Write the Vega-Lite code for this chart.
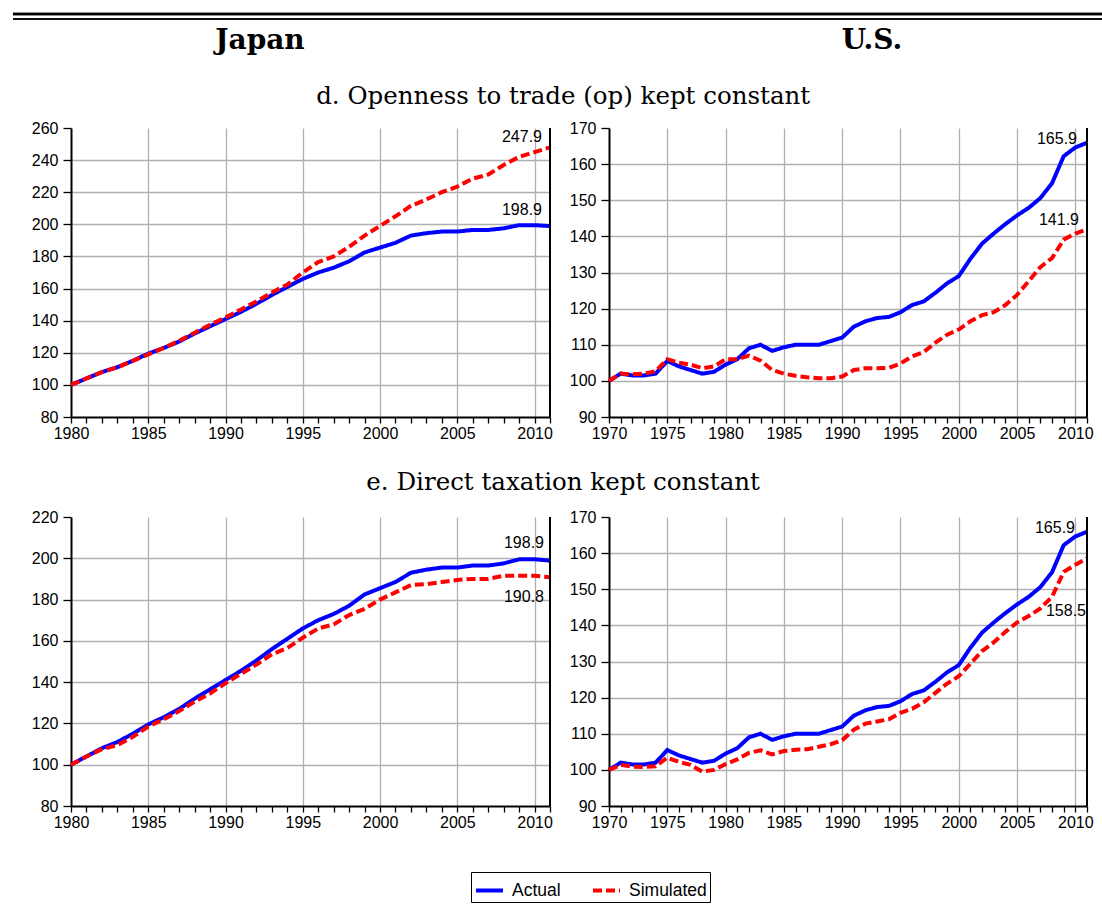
{
  "$schema": "https://vega.github.io/schema/vega-lite/v6.json",
  "background": "white",
  "padding": {"left": 11, "top": 12, "right": 0, "bottom": 0},
  "spacing": 28,
  "datasets": {
    "japan_op": [
      {"year": 1980, "Actual": 100, "Simulated": 100},
      {"year": 1981, "Actual": 104, "Simulated": 104},
      {"year": 1982, "Actual": 108, "Simulated": 108},
      {"year": 1983, "Actual": 111, "Simulated": 111},
      {"year": 1984, "Actual": 115, "Simulated": 115},
      {"year": 1985, "Actual": 119.5, "Simulated": 119},
      {"year": 1986, "Actual": 123, "Simulated": 123},
      {"year": 1987, "Actual": 127, "Simulated": 127.5},
      {"year": 1988, "Actual": 132, "Simulated": 132.5},
      {"year": 1989, "Actual": 136.5, "Simulated": 137.5},
      {"year": 1990, "Actual": 141, "Simulated": 142},
      {"year": 1991, "Actual": 145.5, "Simulated": 147},
      {"year": 1992, "Actual": 150.5, "Simulated": 152},
      {"year": 1993, "Actual": 156, "Simulated": 157.5},
      {"year": 1994, "Actual": 161, "Simulated": 162.5},
      {"year": 1995, "Actual": 166, "Simulated": 170},
      {"year": 1996, "Actual": 170, "Simulated": 176.5},
      {"year": 1997, "Actual": 173, "Simulated": 180},
      {"year": 1998, "Actual": 177, "Simulated": 186},
      {"year": 1999, "Actual": 182.5, "Simulated": 193},
      {"year": 2000, "Actual": 185.5, "Simulated": 199},
      {"year": 2001, "Actual": 188.5, "Simulated": 205},
      {"year": 2002, "Actual": 193, "Simulated": 211.5},
      {"year": 2003, "Actual": 194.5, "Simulated": 215.5},
      {"year": 2004, "Actual": 195.5, "Simulated": 220},
      {"year": 2005, "Actual": 195.5, "Simulated": 223.5},
      {"year": 2006, "Actual": 196.5, "Simulated": 228.5},
      {"year": 2007, "Actual": 196.5, "Simulated": 231},
      {"year": 2008, "Actual": 197.5, "Simulated": 237},
      {"year": 2009, "Actual": 199.5, "Simulated": 242},
      {"year": 2010, "Actual": 199.5, "Simulated": 245},
      {"year": 2011, "Actual": 198.9, "Simulated": 247.9}
    ],
    "japan_tax": [
      {"year": 1980, "Actual": 100, "Simulated": 100},
      {"year": 1981, "Actual": 104, "Simulated": 104},
      {"year": 1982, "Actual": 108, "Simulated": 107.5},
      {"year": 1983, "Actual": 111, "Simulated": 109.5},
      {"year": 1984, "Actual": 115, "Simulated": 113.5},
      {"year": 1985, "Actual": 119.5, "Simulated": 118.5},
      {"year": 1986, "Actual": 123, "Simulated": 122},
      {"year": 1987, "Actual": 127, "Simulated": 126},
      {"year": 1988, "Actual": 132, "Simulated": 130.5},
      {"year": 1989, "Actual": 136.5, "Simulated": 134.5},
      {"year": 1990, "Actual": 141, "Simulated": 139.5},
      {"year": 1991, "Actual": 145.5, "Simulated": 144},
      {"year": 1992, "Actual": 150.5, "Simulated": 148.5},
      {"year": 1993, "Actual": 156, "Simulated": 153.5},
      {"year": 1994, "Actual": 161, "Simulated": 156.5},
      {"year": 1995, "Actual": 166, "Simulated": 161.5},
      {"year": 1996, "Actual": 170, "Simulated": 166},
      {"year": 1997, "Actual": 173, "Simulated": 168},
      {"year": 1998, "Actual": 177, "Simulated": 172.5},
      {"year": 1999, "Actual": 182.5, "Simulated": 175.5},
      {"year": 2000, "Actual": 185.5, "Simulated": 180},
      {"year": 2001, "Actual": 188.5, "Simulated": 183.5},
      {"year": 2002, "Actual": 193, "Simulated": 187},
      {"year": 2003, "Actual": 194.5, "Simulated": 187.5},
      {"year": 2004, "Actual": 195.5, "Simulated": 188.5},
      {"year": 2005, "Actual": 195.5, "Simulated": 189.5},
      {"year": 2006, "Actual": 196.5, "Simulated": 190},
      {"year": 2007, "Actual": 196.5, "Simulated": 190},
      {"year": 2008, "Actual": 197.5, "Simulated": 191.5},
      {"year": 2009, "Actual": 199.5, "Simulated": 191.5},
      {"year": 2010, "Actual": 199.5, "Simulated": 191.5},
      {"year": 2011, "Actual": 198.9, "Simulated": 190.8}
    ],
    "us_op": [
      {"year": 1970, "Actual": 100, "Simulated": 100},
      {"year": 1971, "Actual": 102, "Simulated": 102},
      {"year": 1972, "Actual": 101.5, "Simulated": 101.8},
      {"year": 1973, "Actual": 101.5, "Simulated": 102},
      {"year": 1974, "Actual": 102, "Simulated": 102.7},
      {"year": 1975, "Actual": 105.5, "Simulated": 106},
      {"year": 1976, "Actual": 104, "Simulated": 105},
      {"year": 1977, "Actual": 103, "Simulated": 104.5},
      {"year": 1978, "Actual": 102, "Simulated": 103.5},
      {"year": 1979, "Actual": 102.5, "Simulated": 104},
      {"year": 1980, "Actual": 104.5, "Simulated": 106},
      {"year": 1981, "Actual": 106, "Simulated": 106},
      {"year": 1982, "Actual": 109, "Simulated": 107},
      {"year": 1983, "Actual": 110, "Simulated": 105.6},
      {"year": 1984, "Actual": 108.3, "Simulated": 103},
      {"year": 1985, "Actual": 109.3, "Simulated": 102},
      {"year": 1986, "Actual": 110, "Simulated": 101.4},
      {"year": 1987, "Actual": 110, "Simulated": 101},
      {"year": 1988, "Actual": 110, "Simulated": 100.7},
      {"year": 1989, "Actual": 111, "Simulated": 100.7},
      {"year": 1990, "Actual": 112, "Simulated": 101.2},
      {"year": 1991, "Actual": 115, "Simulated": 103},
      {"year": 1992, "Actual": 116.5, "Simulated": 103.5},
      {"year": 1993, "Actual": 117.4, "Simulated": 103.5},
      {"year": 1994, "Actual": 117.7, "Simulated": 103.6},
      {"year": 1995, "Actual": 119, "Simulated": 104.8},
      {"year": 1996, "Actual": 121, "Simulated": 106.8},
      {"year": 1997, "Actual": 122, "Simulated": 108},
      {"year": 1998, "Actual": 124.4, "Simulated": 110.6},
      {"year": 1999, "Actual": 127, "Simulated": 112.8},
      {"year": 2000, "Actual": 129, "Simulated": 114.2},
      {"year": 2001, "Actual": 133.8, "Simulated": 116.5},
      {"year": 2002, "Actual": 138, "Simulated": 118.2},
      {"year": 2003, "Actual": 140.8, "Simulated": 119},
      {"year": 2004, "Actual": 143.4, "Simulated": 121},
      {"year": 2005, "Actual": 145.8, "Simulated": 123.8},
      {"year": 2006, "Actual": 147.9, "Simulated": 127.6},
      {"year": 2007, "Actual": 150.6, "Simulated": 131.5},
      {"year": 2008, "Actual": 154.7, "Simulated": 134},
      {"year": 2009, "Actual": 162.2, "Simulated": 139.1},
      {"year": 2010, "Actual": 164.6, "Simulated": 140.8},
      {"year": 2011, "Actual": 165.9, "Simulated": 141.9}
    ],
    "us_tax": [
      {"year": 1970, "Actual": 100, "Simulated": 100},
      {"year": 1971, "Actual": 102, "Simulated": 101.4},
      {"year": 1972, "Actual": 101.5, "Simulated": 100.9},
      {"year": 1973, "Actual": 101.5, "Simulated": 100.8},
      {"year": 1974, "Actual": 102, "Simulated": 101},
      {"year": 1975, "Actual": 105.5, "Simulated": 103.4},
      {"year": 1976, "Actual": 104, "Simulated": 102.2},
      {"year": 1977, "Actual": 103, "Simulated": 101.4},
      {"year": 1978, "Actual": 102, "Simulated": 99.5},
      {"year": 1979, "Actual": 102.5, "Simulated": 100},
      {"year": 1980, "Actual": 104.5, "Simulated": 101.6},
      {"year": 1981, "Actual": 106, "Simulated": 102.9},
      {"year": 1982, "Actual": 109, "Simulated": 104.7},
      {"year": 1983, "Actual": 110, "Simulated": 105.4},
      {"year": 1984, "Actual": 108.3, "Simulated": 104.3},
      {"year": 1985, "Actual": 109.3, "Simulated": 105.2},
      {"year": 1986, "Actual": 110, "Simulated": 105.6},
      {"year": 1987, "Actual": 110, "Simulated": 105.7},
      {"year": 1988, "Actual": 110, "Simulated": 106.4},
      {"year": 1989, "Actual": 111, "Simulated": 107.1},
      {"year": 1990, "Actual": 112, "Simulated": 108.2},
      {"year": 1991, "Actual": 115, "Simulated": 111.1},
      {"year": 1992, "Actual": 116.5, "Simulated": 112.8},
      {"year": 1993, "Actual": 117.4, "Simulated": 113.4},
      {"year": 1994, "Actual": 117.7, "Simulated": 114},
      {"year": 1995, "Actual": 119, "Simulated": 115.8},
      {"year": 1996, "Actual": 121, "Simulated": 116.9},
      {"year": 1997, "Actual": 122, "Simulated": 118.7},
      {"year": 1998, "Actual": 124.4, "Simulated": 121.3},
      {"year": 1999, "Actual": 127, "Simulated": 123.9},
      {"year": 2000, "Actual": 129, "Simulated": 125.9},
      {"year": 2001, "Actual": 133.8, "Simulated": 129.4},
      {"year": 2002, "Actual": 138, "Simulated": 132.9},
      {"year": 2003, "Actual": 140.8, "Simulated": 135.3},
      {"year": 2004, "Actual": 143.4, "Simulated": 138.2},
      {"year": 2005, "Actual": 145.8, "Simulated": 140.8},
      {"year": 2006, "Actual": 147.9, "Simulated": 142.6},
      {"year": 2007, "Actual": 150.6, "Simulated": 144.7},
      {"year": 2008, "Actual": 154.7, "Simulated": 147.9},
      {"year": 2009, "Actual": 162.2, "Simulated": 154.8},
      {"year": 2010, "Actual": 164.6, "Simulated": 156.8},
      {"year": 2011, "Actual": 165.9, "Simulated": 158.5}
    ]
  },
  "vconcat": [
    {
      "width": 990,
      "height": 35,
      "data": {"values": [{"country": "Japan"}, {"country": "U.S."}]},
      "resolve": {"scale": {"x": "independent"}},
      "layer": [
        {
          "mark": {"type": "rule", "color": "black", "strokeWidth": 2.5, "clip": false},
          "encoding": {
            "x": {"datum": -0.0586, "type": "quantitative", "scale": {"domain": [0, 1]}, "axis": null},
            "x2": {"datum": 1.0414},
            "y": {"datum": 1, "type": "quantitative", "scale": {"domain": [0, 1]}, "axis": null}
          }
        },
        {
          "mark": {"type": "rule", "color": "black", "strokeWidth": 1.3, "yOffset": 5, "clip": false},
          "encoding": {
            "x": {"datum": -0.0586, "type": "quantitative", "scale": {"domain": [0, 1]}, "axis": null},
            "x2": {"datum": 1.0414},
            "y": {"datum": 1, "type": "quantitative", "axis": null}
          }
        },
        {
          "mark": {"type": "text", "font": "DejaVu Serif", "fontSize": 28, "fontWeight": "bold", "baseline": "alphabetic", "color": "black"},
          "encoding": {
            "x": {"field": "country", "type": "nominal", "scale": {"type": "point", "padding": 0.3088}, "axis": null},
            "y": {"datum": 0, "type": "quantitative", "axis": null},
            "text": {"field": "country"}
          }
        }
      ]
    },
    {
      "title": {"text": "d. Openness to trade (op) kept constant", "offset": 11},
      "spacing": 11,
      "resolve": {"scale": {"x": "independent", "y": "independent"}},
      "hconcat": [
        {
          "width": 479,
          "height": 289,
          "data": {"name": "japan_op"},
          "transform": [{"fold": ["Actual", "Simulated"], "as": ["series", "value"]}],
          "encoding": {
            "x": {
              "field": "year", "type": "quantitative", "title": null,
              "scale": {"domain": [1980, 2011], "nice": false, "zero": false},
              "axis": {
                "values": [1980, 1981, 1982, 1983, 1984, 1985, 1986, 1987, 1988, 1989, 1990, 1991, 1992, 1993, 1994, 1995, 1996, 1997, 1998, 1999, 2000, 2001, 2002, 2003, 2004, 2005, 2006, 2007, 2008, 2009, 2010, 2011],
                "labelExpr": "datum.value % 5 === 0 ? datum.label : ''",
                "labelOverlap": false,
                "gridOpacity": {"condition": {"test": "datum.value % 5 !== 0 || datum.value === 1980", "value": 0}, "value": 1}
              }
            },
            "y": {
              "field": "value", "type": "quantitative", "title": null,
              "scale": {"domain": [80, 260], "nice": false, "zero": false},
              "axis": {
                "values": [80, 100, 120, 140, 160, 180, 200, 220, 240, 260],
                "labelOverlap": false,
                "gridOpacity": {"condition": {"test": "datum.value === 260 || datum.value === 80", "value": 0}, "value": 1}
              }
            }
          },
          "layer": [
            {
              "mark": {"type": "line", "strokeWidth": 4},
              "encoding": {
                "color": {"field": "series", "type": "nominal", "title": null, "scale": {"domain": ["Actual", "Simulated"], "range": ["#0000ff", "#ff0000"]}, "legend": {"orient": "none", "legendX": 400, "legendY": 858, "direction": "horizontal"}},
                "strokeDash": {"field": "series", "type": "nominal", "title": null, "scale": {"domain": ["Actual", "Simulated"], "range": [[1, 0], [9, 4]]}, "legend": {"orient": "none", "legendX": 400, "legendY": 858, "direction": "horizontal"}}
              }
            },
            {
              "transform": [{"filter": "datum.year === 2011 && datum.series === 'Actual'"}],
              "mark": {"type": "rule", "color": "black", "strokeWidth": 2},
              "encoding": {"y2": {"datum": 260}}
            },
            {
              "transform": [{"filter": "datum.year === 2011 && datum.series === 'Actual'"}],
              "mark": {"type": "rule", "color": "black", "strokeWidth": 2},
              "encoding": {"y2": {"datum": 80}}
            },
            {
              "transform": [{"filter": "datum.year === 2011 && datum.series === 'Simulated'"}],
              "mark": {"type": "text", "align": "right", "baseline": "middle", "dx": -8, "dy": -10, "font": "Liberation Sans", "fontSize": 16, "color": "black"},
              "encoding": {"text": {"field": "value", "type": "quantitative", "format": ".1f"}}
            },
            {
              "transform": [{"filter": "datum.year === 2011 && datum.series === 'Actual'"}],
              "mark": {"type": "text", "align": "right", "baseline": "middle", "dx": -8, "dy": -16, "font": "Liberation Sans", "fontSize": 16, "color": "black"},
              "encoding": {"text": {"field": "value", "type": "quantitative", "format": ".1f"}}
            }
          ]
        },
        {
          "width": 478,
          "height": 289,
          "data": {"name": "us_op"},
          "transform": [{"fold": ["Actual", "Simulated"], "as": ["series", "value"]}],
          "encoding": {
            "x": {
              "field": "year", "type": "quantitative", "title": null,
              "scale": {"domain": [1970, 2011], "nice": false, "zero": false},
              "axis": {
                "values": [1970, 1971, 1972, 1973, 1974, 1975, 1976, 1977, 1978, 1979, 1980, 1981, 1982, 1983, 1984, 1985, 1986, 1987, 1988, 1989, 1990, 1991, 1992, 1993, 1994, 1995, 1996, 1997, 1998, 1999, 2000, 2001, 2002, 2003, 2004, 2005, 2006, 2007, 2008, 2009, 2010, 2011],
                "labelExpr": "datum.value % 5 === 0 ? datum.label : ''",
                "labelOverlap": false,
                "gridOpacity": {"condition": {"test": "datum.value % 5 !== 0 || datum.value === 1970", "value": 0}, "value": 1}
              }
            },
            "y": {
              "field": "value", "type": "quantitative", "title": null,
              "scale": {"domain": [90, 170], "nice": false, "zero": false},
              "axis": {
                "values": [90, 100, 110, 120, 130, 140, 150, 160, 170],
                "labelOverlap": false,
                "gridOpacity": {"condition": {"test": "datum.value === 170 || datum.value === 90", "value": 0}, "value": 1}
              }
            }
          },
          "layer": [
            {
              "mark": {"type": "line", "strokeWidth": 4},
              "encoding": {
                "color": {"field": "series", "type": "nominal", "title": null, "scale": {"domain": ["Actual", "Simulated"], "range": ["#0000ff", "#ff0000"]}, "legend": {"orient": "none", "legendX": 400, "legendY": 858, "direction": "horizontal"}},
                "strokeDash": {"field": "series", "type": "nominal", "title": null, "scale": {"domain": ["Actual", "Simulated"], "range": [[1, 0], [9, 4]]}, "legend": {"orient": "none", "legendX": 400, "legendY": 858, "direction": "horizontal"}}
              }
            },
            {
              "transform": [{"filter": "datum.year === 2011 && datum.series === 'Actual'"}],
              "mark": {"type": "rule", "color": "black", "strokeWidth": 2},
              "encoding": {"y2": {"datum": 170}}
            },
            {
              "transform": [{"filter": "datum.year === 2011 && datum.series === 'Actual'"}],
              "mark": {"type": "rule", "color": "black", "strokeWidth": 2},
              "encoding": {"y2": {"datum": 90}}
            },
            {
              "transform": [{"filter": "datum.year === 2011 && datum.series === 'Simulated'"}],
              "mark": {"type": "text", "align": "right", "baseline": "middle", "dx": -8, "dy": -10, "font": "Liberation Sans", "fontSize": 16, "color": "black"},
              "encoding": {"text": {"field": "value", "type": "quantitative", "format": ".1f"}}
            },
            {
              "transform": [{"filter": "datum.year === 2011 && datum.series === 'Actual'"}],
              "mark": {"type": "text", "align": "right", "baseline": "middle", "dx": -10, "dy": -4, "font": "Liberation Sans", "fontSize": 16, "color": "black"},
              "encoding": {"text": {"field": "value", "type": "quantitative", "format": ".1f"}}
            }
          ]
        }
      ]
    },
    {
      "title": {"text": "e. Direct taxation kept constant", "offset": 14},
      "spacing": 11,
      "resolve": {"scale": {"x": "independent", "y": "independent"}},
      "hconcat": [
        {
          "width": 479,
          "height": 289,
          "data": {"name": "japan_tax"},
          "transform": [{"fold": ["Actual", "Simulated"], "as": ["series", "value"]}],
          "encoding": {
            "x": {
              "field": "year", "type": "quantitative", "title": null,
              "scale": {"domain": [1980, 2011], "nice": false, "zero": false},
              "axis": {
                "values": [1980, 1981, 1982, 1983, 1984, 1985, 1986, 1987, 1988, 1989, 1990, 1991, 1992, 1993, 1994, 1995, 1996, 1997, 1998, 1999, 2000, 2001, 2002, 2003, 2004, 2005, 2006, 2007, 2008, 2009, 2010, 2011],
                "labelExpr": "datum.value % 5 === 0 ? datum.label : ''",
                "labelOverlap": false,
                "gridOpacity": {"condition": {"test": "datum.value % 5 !== 0 || datum.value === 1980", "value": 0}, "value": 1}
              }
            },
            "y": {
              "field": "value", "type": "quantitative", "title": null,
              "scale": {"domain": [80, 220], "nice": false, "zero": false},
              "axis": {
                "values": [80, 100, 120, 140, 160, 180, 200, 220],
                "labelOverlap": false,
                "gridOpacity": {"condition": {"test": "datum.value === 220 || datum.value === 80", "value": 0}, "value": 1}
              }
            }
          },
          "layer": [
            {
              "mark": {"type": "line", "strokeWidth": 4},
              "encoding": {
                "color": {"field": "series", "type": "nominal", "title": null, "scale": {"domain": ["Actual", "Simulated"], "range": ["#0000ff", "#ff0000"]}, "legend": {"orient": "none", "legendX": 400, "legendY": 858, "direction": "horizontal"}},
                "strokeDash": {"field": "series", "type": "nominal", "title": null, "scale": {"domain": ["Actual", "Simulated"], "range": [[1, 0], [9, 4]]}, "legend": {"orient": "none", "legendX": 400, "legendY": 858, "direction": "horizontal"}}
              }
            },
            {
              "transform": [{"filter": "datum.year === 2011 && datum.series === 'Actual'"}],
              "mark": {"type": "rule", "color": "black", "strokeWidth": 2},
              "encoding": {"y2": {"datum": 220}}
            },
            {
              "transform": [{"filter": "datum.year === 2011 && datum.series === 'Actual'"}],
              "mark": {"type": "rule", "color": "black", "strokeWidth": 2},
              "encoding": {"y2": {"datum": 80}}
            },
            {
              "transform": [{"filter": "datum.year === 2011 && datum.series === 'Simulated'"}],
              "mark": {"type": "text", "align": "right", "baseline": "middle", "dx": -6, "dy": 20, "font": "Liberation Sans", "fontSize": 16, "color": "black"},
              "encoding": {"text": {"field": "value", "type": "quantitative", "format": ".1f"}}
            },
            {
              "transform": [{"filter": "datum.year === 2011 && datum.series === 'Actual'"}],
              "mark": {"type": "text", "align": "right", "baseline": "middle", "dx": -6, "dy": -18, "font": "Liberation Sans", "fontSize": 16, "color": "black"},
              "encoding": {"text": {"field": "value", "type": "quantitative", "format": ".1f"}}
            }
          ]
        },
        {
          "width": 478,
          "height": 289,
          "data": {"name": "us_tax"},
          "transform": [{"fold": ["Actual", "Simulated"], "as": ["series", "value"]}],
          "encoding": {
            "x": {
              "field": "year", "type": "quantitative", "title": null,
              "scale": {"domain": [1970, 2011], "nice": false, "zero": false},
              "axis": {
                "values": [1970, 1971, 1972, 1973, 1974, 1975, 1976, 1977, 1978, 1979, 1980, 1981, 1982, 1983, 1984, 1985, 1986, 1987, 1988, 1989, 1990, 1991, 1992, 1993, 1994, 1995, 1996, 1997, 1998, 1999, 2000, 2001, 2002, 2003, 2004, 2005, 2006, 2007, 2008, 2009, 2010, 2011],
                "labelExpr": "datum.value % 5 === 0 ? datum.label : ''",
                "labelOverlap": false,
                "gridOpacity": {"condition": {"test": "datum.value % 5 !== 0 || datum.value === 1970", "value": 0}, "value": 1}
              }
            },
            "y": {
              "field": "value", "type": "quantitative", "title": null,
              "scale": {"domain": [90, 170], "nice": false, "zero": false},
              "axis": {
                "values": [90, 100, 110, 120, 130, 140, 150, 160, 170],
                "labelOverlap": false,
                "gridOpacity": {"condition": {"test": "datum.value === 170 || datum.value === 90", "value": 0}, "value": 1}
              }
            }
          },
          "layer": [
            {
              "mark": {"type": "line", "strokeWidth": 4},
              "encoding": {
                "color": {"field": "series", "type": "nominal", "title": null, "scale": {"domain": ["Actual", "Simulated"], "range": ["#0000ff", "#ff0000"]}, "legend": {"orient": "none", "legendX": 400, "legendY": 858, "direction": "horizontal"}},
                "strokeDash": {"field": "series", "type": "nominal", "title": null, "scale": {"domain": ["Actual", "Simulated"], "range": [[1, 0], [9, 4]]}, "legend": {"orient": "none", "legendX": 400, "legendY": 858, "direction": "horizontal"}}
              }
            },
            {
              "transform": [{"filter": "datum.year === 2011 && datum.series === 'Actual'"}],
              "mark": {"type": "rule", "color": "black", "strokeWidth": 2},
              "encoding": {"y2": {"datum": 170}}
            },
            {
              "transform": [{"filter": "datum.year === 2011 && datum.series === 'Actual'"}],
              "mark": {"type": "rule", "color": "black", "strokeWidth": 2},
              "encoding": {"y2": {"datum": 90}}
            },
            {
              "transform": [{"filter": "datum.year === 2011 && datum.series === 'Simulated'"}],
              "mark": {"type": "text", "align": "right", "baseline": "middle", "dx": -1, "dy": 52, "font": "Liberation Sans", "fontSize": 16, "color": "black"},
              "encoding": {"text": {"field": "value", "type": "quantitative", "format": ".1f"}}
            },
            {
              "transform": [{"filter": "datum.year === 2011 && datum.series === 'Actual'"}],
              "mark": {"type": "text", "align": "right", "baseline": "middle", "dx": -12, "dy": -4, "font": "Liberation Sans", "fontSize": 16, "color": "black"},
              "encoding": {"text": {"field": "value", "type": "quantitative", "format": ".1f"}}
            }
          ]
        }
      ]
    }
  ],
  "config": {
    "view": {"stroke": null},
    "axis": {
      "labelFont": "Liberation Sans",
      "labelFontSize": 16,
      "labelColor": "black",
      "domainColor": "black",
      "domainWidth": 2,
      "tickColor": "black",
      "tickWidth": 1.3,
      "gridColor": "#b0b0b0",
      "gridWidth": 1.3
    },
    "axisX": {"tickSize": 6, "labelPadding": 2, "labelFlush": false, "labelOverlap": false, "format": "d", "labelFontSize": 16},
    "axisY": {"tickSize": 8, "labelPadding": 5, "labelOverlap": false, "labelFontSize": 16},
    "title": {"font": "DejaVu Serif", "fontSize": 24.5, "fontWeight": "normal", "color": "black", "anchor": "middle"},
    "legend": {
      "title": null,
      "strokeColor": "black",
      "fillColor": "white",
      "padding": 3,
      "labelFont": "Liberation Sans",
      "labelFontSize": 17.5,
      "labelColor": "black",
      "symbolType": "stroke",
      "symbolStrokeWidth": 4,
      "symbolSize": 729,
      "columnPadding": 24,
      "labelOffset": 7
    }
  }
}
